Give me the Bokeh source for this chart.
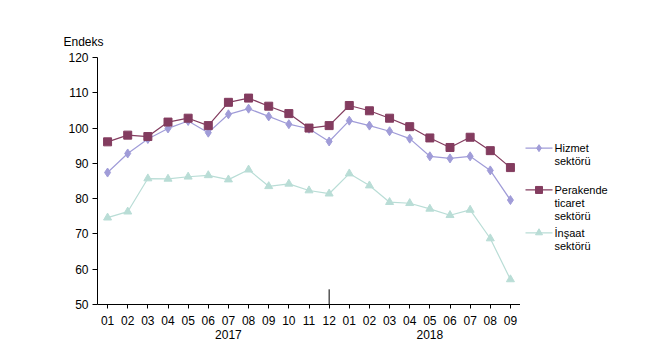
from bokeh.plotting import figure
from bokeh.layouts import row
from bokeh.models import FixedTicker, Range1d, Title
from bokeh.core.properties import value
from bokeh.embed import file_html
from bokeh.resources import INLINE

months = ["01", "02", "03", "04", "05", "06", "07", "08", "09", "10", "11", "12",
          "01", "02", "03", "04", "05", "06", "07", "08", "09"]
year_labels = {6: "2017", 16: "2018"}
hizmet = [87.4, 92.8, 96.9, 99.9, 102.0, 98.7, 103.9, 105.5, 103.3, 101.1, 99.8, 96.2,
          102.1, 100.7, 99.1, 97.0, 92.0, 91.4, 92.0, 88.0, 79.6]
perakende = [96.1, 98.0, 97.6, 101.7, 102.8, 100.7, 107.3, 108.5, 106.2, 104.1, 100.0, 100.7,
             106.4, 104.9, 102.8, 100.4, 97.2, 94.5, 97.4, 93.6, 88.8]
insaat = [74.6, 76.3, 85.7, 85.6, 86.2, 86.6, 85.4, 88.2, 83.5, 84.2, 82.3, 81.4,
          87.1, 83.7, 79.0, 78.7, 77.1, 75.3, 76.8, 68.7, 57.1]
y_ticks = [50, 60, 70, 80, 90, 100, 110, 120]
series_names = [["Hizmet", "sektörü"], ["Perakende", "ticaret", "sektörü"], ["İnşaat", "sektörü"]]

FONT = "Liberation Sans"
c_h = "#a09cd8"
c_p = "#833c5f"
c_i = "#b9ddd6"

TOP, BOTTOM, HEIGHT = 57, 39, 344

x = list(range(len(months)))

p = figure(width=520, height=HEIGHT, output_backend="svg", toolbar_location=None,
           x_range=Range1d(-0.5, len(months) - 0.5), y_range=Range1d(y_ticks[0], y_ticks[-1]),
           min_border_left=97, min_border_right=0, min_border_top=TOP, min_border_bottom=BOTTOM)
p.title = Title(text="Endeks", align="left", offset=-34, standoff=18, text_font=FONT,
                text_font_size="12px", text_font_style="normal", text_color="#000000")
p.outline_line_color = None
p.grid.visible = False

p.line(x, hizmet, color=c_h, line_width=1.2)
p.scatter(x, hizmet, marker="diamond", size=9, color=c_h)
p.line(x, perakende, color=c_p, line_width=1.2)
p.scatter(x, perakende, marker="square", size=8, color=c_p)
p.line(x, insaat, color=c_i, line_width=1.2)
p.scatter(x, insaat, marker="triangle", size=8, color=c_i)

# year separator at December
sep = months.index("12")
p.segment(x0=[sep], y0=[y_ticks[0]], x1=[sep], y1=[y_ticks[0] + 4.3], color="black", line_width=1)

p.yaxis.ticker = FixedTicker(ticks=y_ticks)
p.xaxis.ticker = FixedTicker(ticks=x)
overrides = {}
for i, m in enumerate(months):
    overrides[i] = m + ("\n" + year_labels[i] if i in year_labels else "")
p.xaxis.major_label_overrides = overrides
for ax in (p.xaxis, p.yaxis):
    ax.axis_line_color = "black"
    ax.major_tick_line_color = "black"
    ax.major_tick_in = 0
    ax.minor_tick_line_color = None
    ax.major_label_text_font = FONT
    ax.major_label_text_font_size = "12px"
    ax.major_label_text_color = "#000000"
p.xaxis.major_tick_out = 4
p.yaxis.major_tick_out = 5
p.xaxis.major_label_standoff = 5
p.xaxis.major_label_text_line_height = 1.0
p.yaxis.major_label_standoff = 4

# legend panel: frame aligned with the main frame, coordinates in page pixels (y downward)
lg = figure(width=114, height=HEIGHT, output_backend="svg", toolbar_location=None,
            x_range=Range1d(0, 114), y_range=Range1d(HEIGHT - BOTTOM, TOP),
            x_axis_type=None, y_axis_type=None, min_border_left=0, min_border_right=0,
            min_border_top=TOP, min_border_bottom=BOTTOM)
lg.outline_line_color = None
lg.grid.visible = False
entry_tops = [148, 190, 233]
colors = [c_h, c_p, c_i]
markers = ["diamond", "square", "triangle"]
msizes = [7, 7, 7]
for names, ty, col, mk, ms in zip(series_names, entry_tops, colors, markers, msizes):
    lg.segment(x0=[5], y0=[ty], x1=[32], y1=[ty], color=col, line_width=1.2)
    lg.scatter([18.5], [ty], marker=mk, size=ms, color=col)
    lg.text(x=[34] * len(names), y=[ty + 13 * k for k in range(len(names))], text=names,
            text_font=value(FONT), text_font_size="11px", text_color="#000000",
            text_baseline="middle", text_align="left")

open("out.html", "w").write(file_html(row(p, lg), INLINE))
